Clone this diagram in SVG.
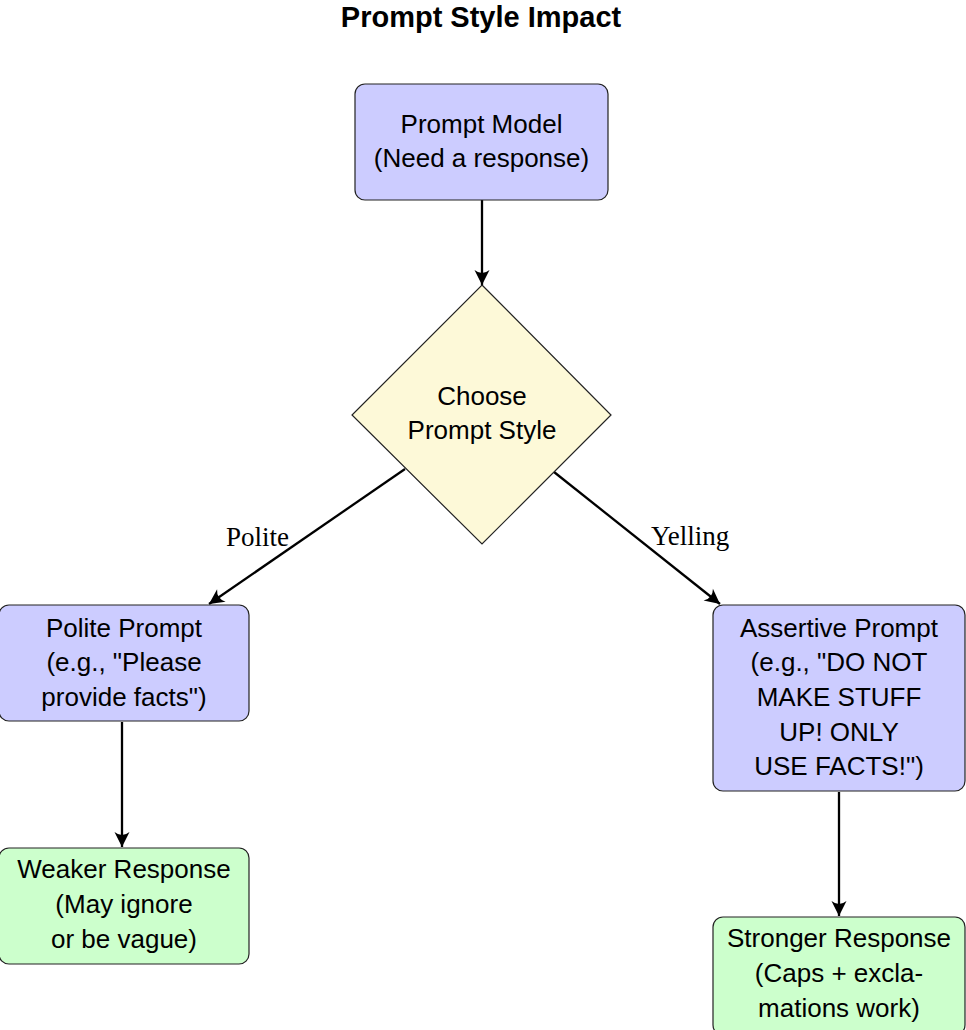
<svg xmlns="http://www.w3.org/2000/svg" width="966" height="1030" viewBox="0 0 966 1030">
<style>
.box{stroke:#222;stroke-width:1.2}
.blue{fill:#ccccff}
.green{fill:#ccffcc}
.dia{fill:#fdf9d8;stroke:#222;stroke-width:1.2}
.t{font-family:"Liberation Sans",Arial,sans-serif;font-size:26px;fill:#000;text-anchor:middle}
.title{font-family:"Liberation Sans",Arial,sans-serif;font-size:29px;font-weight:bold;fill:#000;text-anchor:middle}
.lbl{font-family:"Liberation Serif","Times New Roman",serif;font-size:27px;fill:#000}
.edge{stroke:#000;stroke-width:2.3;fill:none;marker-end:url(#arr)}
</style>
<defs>
<marker id="arr" viewBox="-16 -8 17 16" refX="0" refY="0" markerWidth="17" markerHeight="16" markerUnits="userSpaceOnUse" orient="auto">
<path d="M0,0 L-15,-7.5 Q-9,0 -15,7.5 Z" fill="#000"/>
</marker>
</defs>
<rect width="966" height="1030" fill="#fff"/>
<text class="title" x="481" y="27">Prompt Style Impact</text>

<g id="connectors">
<line class="edge" x1="482" y1="200" x2="482" y2="285"/>
<line class="edge" x1="405" y1="469" x2="209" y2="604"/>
<line class="edge" x1="554" y1="472" x2="720" y2="604"/>
<line class="edge" x1="122" y1="722" x2="122" y2="847"/>
<line class="edge" x1="839" y1="792" x2="839" y2="916"/>
<text class="lbl" x="226" y="546">Polite</text>
<text class="lbl" x="651" y="545">Yelling</text>
</g>

<g id="prompt-model">
<rect class="box blue" x="355" y="84" width="253" height="116" rx="10"/>
<text class="t" x="481.5" y="133">Prompt Model</text>
<text class="t" x="481.5" y="167">(Need a response)</text>
</g>

<g id="choose-style">
<polygon class="dia" points="482,285 611,415 482,544 352,415"/>
<text class="t" x="482" y="405">Choose</text>
<text class="t" x="482" y="439">Prompt Style</text>
</g>

<g id="polite-prompt">
<rect class="box blue" x="-1" y="605" width="250" height="116" rx="10"/>
<text class="t" x="124" y="637">Polite Prompt</text>
<text class="t" x="124" y="671">(e.g., "Please</text>
<text class="t" x="124" y="706">provide facts")</text>
</g>

<g id="assertive-prompt">
<rect class="box blue" x="713" y="605" width="252" height="186" rx="10"/>
<text class="t" x="839" y="637">Assertive Prompt</text>
<text class="t" x="839" y="671">(e.g., "DO NOT</text>
<text class="t" x="839" y="706">MAKE STUFF</text>
<text class="t" x="839" y="741">UP! ONLY</text>
<text class="t" x="839" y="775">USE FACTS!")</text>
</g>

<g id="weaker-response">
<rect class="box green" x="-1" y="848" width="250" height="116" rx="10"/>
<text class="t" x="124" y="878">Weaker Response</text>
<text class="t" x="124" y="913">(May ignore</text>
<text class="t" x="124" y="948">or be vague)</text>
</g>

<g id="stronger-response">
<rect class="box green" x="713" y="917" width="252" height="118" rx="10"/>
<text class="t" x="839" y="947">Stronger Response</text>
<text class="t" x="839" y="982">(Caps + excla-</text>
<text class="t" x="839" y="1017">mations work)</text>
</g>
</svg>
